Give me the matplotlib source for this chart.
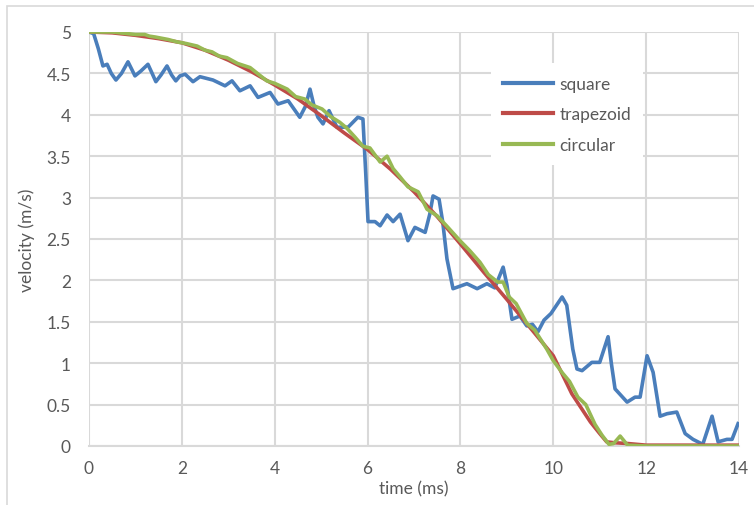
import matplotlib.pyplot as plt
from matplotlib.patches import Rectangle

plt.rcParams['font.family'] = ['Lato', 'DejaVu Sans']

# velocity profiles, time in ms, velocity in m/s
square_t = [0, 0.1, 0.2, 0.3, 0.39, 0.48, 0.58, 0.7, 0.84, 0.92, 0.99, 1.12, 1.27, 1.36,
            1.44, 1.55, 1.68, 1.78, 1.87, 1.96, 2.07, 2.24, 2.39, 2.67, 2.93, 3.08, 3.25,
            3.47, 3.64, 3.9, 4.07, 4.29, 4.54, 4.66, 4.76, 4.85, 4.93, 5.04, 5.17, 5.34,
            5.58, 5.79, 5.9, 5.96, 6.01, 6.16, 6.27, 6.42, 6.55, 6.7, 6.87, 7.02, 7.24,
            7.34, 7.41, 7.54, 7.62, 7.71, 7.84, 8.14, 8.36, 8.57, 8.74, 8.92, 9.0, 9.11,
            9.28, 9.43, 9.55, 9.67, 9.8, 9.95, 10.19, 10.29, 10.42, 10.51, 10.62, 10.83,
            11.0, 11.18, 11.25, 11.33, 11.59, 11.76, 11.87, 12.02, 12.15, 12.3, 12.45,
            12.66, 12.84, 13.01, 13.22, 13.42, 13.55, 13.74, 13.85, 13.98]
square_v = [5.0, 4.98, 4.8, 4.59, 4.61, 4.5, 4.42, 4.5, 4.64, 4.55, 4.47, 4.53, 4.61, 4.5,
            4.40, 4.48, 4.59, 4.48, 4.41, 4.47, 4.49, 4.40, 4.46, 4.42, 4.35, 4.41, 4.29,
            4.35, 4.21, 4.27, 4.13, 4.17, 3.97, 4.1, 4.31, 4.1, 3.97, 3.89, 4.05, 3.85,
            3.85, 3.97, 3.95, 3.3, 2.71, 2.71, 2.66, 2.79, 2.71, 2.80, 2.48, 2.64, 2.58,
            2.8, 3.02, 2.98, 2.7, 2.26, 1.90, 1.96, 1.90, 1.96, 1.91, 2.16, 1.95, 1.53,
            1.57, 1.45, 1.47, 1.38, 1.52, 1.6, 1.80, 1.70, 1.17, 0.93, 0.91, 1.01,
            1.01, 1.32, 1.0, 0.69, 0.53, 0.59, 0.59, 1.09, 0.89, 0.36, 0.39,
            0.41, 0.15, 0.08, 0.02, 0.36, 0.05, 0.08, 0.08, 0.27]

trap_t = [0, 0.5, 1.0, 1.5, 2.0, 2.5, 3.0, 3.5, 4.0, 4.5, 5.0, 5.5, 6.0, 6.5, 7.0, 7.5,
          8.0, 8.5, 9.0, 9.5, 10.0, 10.4, 10.8, 11.0, 11.15, 11.3, 11.6, 12.0, 14.0]
trap_v = [5.0, 4.99, 4.96, 4.92, 4.87, 4.78, 4.66, 4.52, 4.36, 4.19, 3.99, 3.78, 3.58,
          3.34, 3.07, 2.77, 2.44, 2.10, 1.77, 1.43, 1.09, 0.63, 0.29, 0.15, 0.05, 0.04,
          0.03, 0.01, 0.01]

circ_t = [0, 0.5, 1.0, 1.2, 1.3, 1.42, 1.7, 1.9, 2.1, 2.33, 2.5, 2.65, 2.8, 2.97, 3.2,
          3.47, 3.65, 3.83, 4.0, 4.27, 4.45, 4.65, 4.8, 5.02, 5.2, 5.4, 5.55, 5.73, 5.9,
          6.05, 6.27, 6.42, 6.55, 6.7, 6.87, 7.09, 7.28, 7.5, 7.7, 7.99, 8.2, 8.42, 8.6,
          8.8, 8.92, 9.05, 9.2, 9.43, 9.6, 9.86, 10.0, 10.2, 10.35, 10.53, 10.7, 10.9,
          11.05, 11.2, 11.3, 11.44, 11.6, 12.0, 14.0]
circ_v = [5.0, 5.0, 4.97, 4.97, 4.95, 4.94, 4.91, 4.88, 4.86, 4.83, 4.78, 4.76, 4.71,
          4.69, 4.62, 4.57, 4.49, 4.41, 4.38, 4.31, 4.22, 4.19, 4.12, 4.07, 3.98, 3.91,
          3.84, 3.73, 3.62, 3.6, 3.43, 3.50, 3.35, 3.25, 3.13, 3.07, 2.86, 2.78, 2.66,
          2.48, 2.36, 2.22, 2.07, 1.98, 1.98, 1.8, 1.72, 1.48, 1.4, 1.17, 1.03, 0.88,
          0.78, 0.59, 0.5, 0.26, 0.13, 0.02, 0.03, 0.12, 0.01, 0.0, 0.0]

x_ticks = [0, 2, 4, 6, 8, 10, 12, 14]
y_ticks = [0, 0.5, 1, 1.5, 2, 2.5, 3, 3.5, 4, 4.5, 5]
y_labels = ['0', '0.5', '1', '1.5', '2', '2.5', '3', '3.5', '4', '4.5', '5']

fig = plt.figure(figsize=(7.54, 5.06), dpi=100)
ax = fig.add_axes([89 / 754, 1 - 447 / 506, 650 / 754, 414 / 506])

# chart border (clipped at right and bottom like the reference)
fig.patches.append(Rectangle((7 / 754, -0.1), 1.2, 1 - 7 / 506 + 0.1, transform=fig.transFigure,
                             fill=False, edgecolor='#d9d9d9', linewidth=1.2))

ax.plot(square_t, square_v, color='#4a7ebb', lw=2.6, label='square', solid_joinstyle='round', zorder=3)
ax.plot(trap_t, trap_v, color='#be4b48', lw=2.6, label='trapezoid', solid_joinstyle='round', zorder=4)
ax.plot(circ_t, circ_v, color='#98b954', lw=2.6, label='circular', solid_joinstyle='round', zorder=5)

ax.set_xlim(0, 14)
ax.set_ylim(0, 5)
ax.set_xticks(x_ticks)
ax.set_yticks(y_ticks)
ax.set_yticklabels(y_labels)
ax.grid(True, color='#d9d9d9', lw=1.5)
ax.set_axisbelow(True)
for s in ['top', 'right', 'left']:
    ax.spines[s].set_visible(False)
ax.spines['bottom'].set_color('#d9d9d9')
ax.spines['bottom'].set_linewidth(1.5)
ax.tick_params(length=0, labelsize=12.5, labelcolor='#595959', pad=10)
ax.tick_params(axis='y', pad=13)

ax.set_xlabel('time (ms)', fontsize=12.5, color='#595959', labelpad=3)
ax.set_ylabel('velocity (m/s)', fontsize=12.5, color='#595959', labelpad=8)

leg = ax.legend(loc='upper left', bbox_to_anchor=(0.605, 0.945), frameon=True, fontsize=12.5,
                handlelength=2.9, labelspacing=0.85, borderpad=0.7, handletextpad=0.35)
leg.get_frame().set_edgecolor('none')
leg.get_frame().set_facecolor('white')
leg.get_frame().set_alpha(1)
for t in leg.get_texts():
    t.set_color('#595959')
for l in leg.get_lines():
    l.set_linewidth(3)

fig.savefig('out.png', dpi=100)
